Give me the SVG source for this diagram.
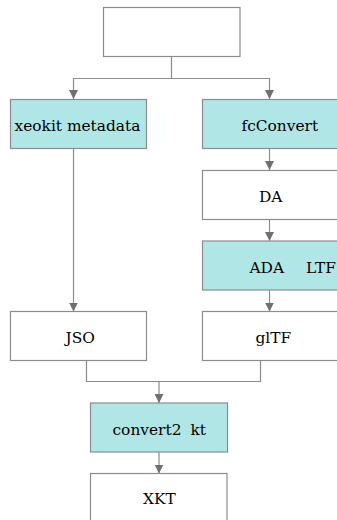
<svg xmlns="http://www.w3.org/2000/svg" width="337" height="520" viewBox="0 0 337 520">
<style>
.box{fill:#ffffff;stroke:#8c8c8c;stroke-width:1.2}
.hl{fill:#b1e6e6;stroke:#8c8c8c;stroke-width:1.2}
.t{font-family:"DejaVu Serif","Liberation Serif",serif;font-size:15.4px;fill:#000}
.c{fill:none;stroke:#8c8c8c;stroke-width:1.2}
</style>
<defs>
<marker id="ah" viewBox="0 0 10 10" refX="10" refY="5" markerWidth="9" markerHeight="9" markerUnits="userSpaceOnUse" orient="auto">
<path d="M0,0 L10,5 L0,10 z" fill="#707070"/>
</marker>
</defs>
<rect width="337" height="520" fill="#ffffff"/>
<g id="connectors">
<path class="c" d="M171.5,57 V78.5 H73.5 V99" marker-end="url(#ah)"/>
<path class="c" d="M171.5,78.5 H269.5 V99" marker-end="url(#ah)"/>
<path class="c" d="M269.5,149 V170" marker-end="url(#ah)"/>
<path class="c" d="M269.5,219.5 V241" marker-end="url(#ah)"/>
<path class="c" d="M269.5,290 V311.5" marker-end="url(#ah)"/>
<path class="c" d="M73.5,149 V311.5" marker-end="url(#ah)"/>
<path class="c" d="M86.5,360.5 V381.5 H260.5 V360.5"/>
<path class="c" d="M159,381.5 V403" marker-end="url(#ah)"/>
<path class="c" d="M159,452 V473.5" marker-end="url(#ah)"/>
</g>
<g id="top"><rect class="box" x="103.5" y="7.5" width="136.5" height="49"/></g>
<g id="xeokit"><rect class="hl" x="10.5" y="99.5" width="136" height="49"/><text class="t" x="14.5" y="131">xeokit metadata</text></g>
<g id="fcconvert"><rect class="hl" x="202.5" y="99.5" width="136.5" height="49"/><text class="t" x="241.5" y="131">fcConvert</text></g>
<g id="da"><rect class="box" x="202.5" y="170.5" width="136.5" height="49"/><text class="t" x="259" y="202">DA</text></g>
<g id="ada"><rect class="hl" x="202.5" y="241" width="136.5" height="49"/><text class="t" y="272.5"><tspan x="249.5">ADA</tspan><tspan x="306">LTF</tspan></text></g>
<g id="jso"><rect class="box" x="10.5" y="311.5" width="136" height="49"/><text class="t" x="65.5" y="343">JSO</text></g>
<g id="gltf"><rect class="box" x="202.5" y="311.5" width="136.5" height="49"/><text class="t" x="255.5" y="343">glTF</text></g>
<g id="convert"><rect class="hl" x="90.5" y="403" width="137" height="49"/><text class="t" y="435"><tspan x="112.5">convert2</tspan><tspan x="190.5">kt</tspan></text></g>
<g id="xkt"><rect class="box" x="90.5" y="473.5" width="136.5" height="49"/><text class="t" x="143" y="504">XKT</text></g>
</svg>
